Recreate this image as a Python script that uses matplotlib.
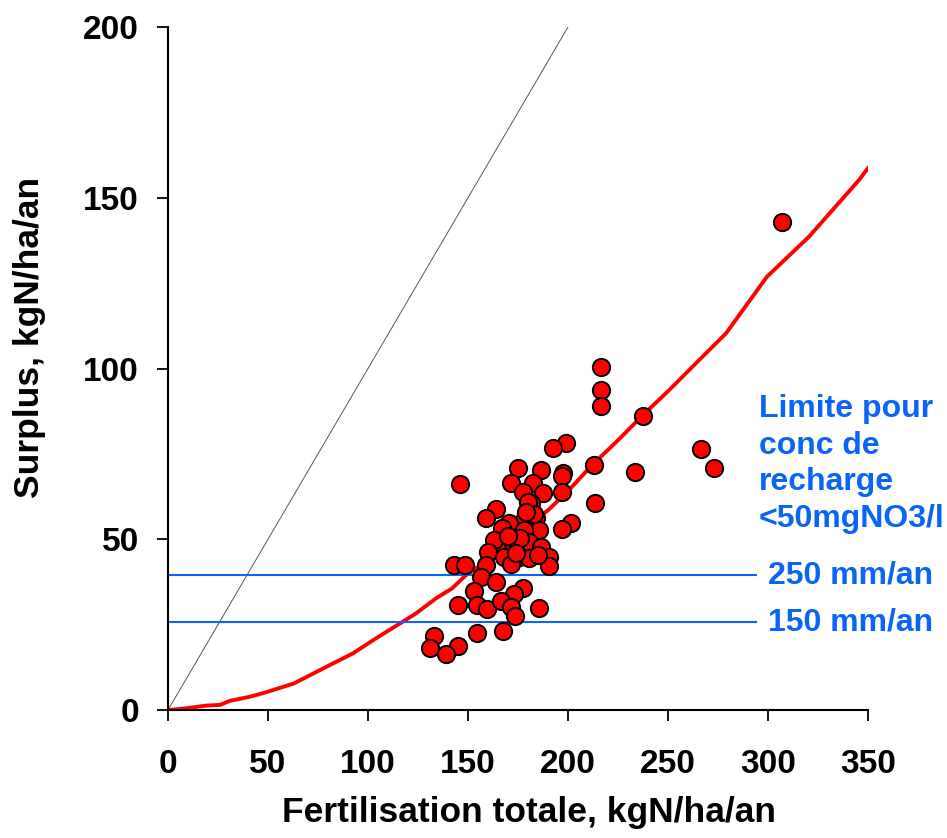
import matplotlib
matplotlib.use("Agg")
from matplotlib import pyplot as plt

# observed points (fertilisation, surplus)
fert = [216.5, 216.5, 216.5, 237.3, 199.0, 192.7, 212.8, 233.3, 145.8, 175.1,
        186.6, 197.4, 196.9, 171.6, 182.4, 177.4, 187.7, 196.9, 213.7, 164.1,
        159.1, 179.9, 181.6, 184.1, 178.2, 170.7, 166.9, 201.6, 196.9, 185.4,
        178.2, 162.8, 172.4, 175.2, 180.7, 186.6, 159.9, 168.2, 175.7, 180.7,
        190.4, 190.4, 143.0, 148.3, 159.1, 171.6, 156.3, 164.1, 177.4, 173.2,
        152.8, 144.9, 154.4, 159.4, 166.7, 171.7, 185.7, 173.4, 154.4, 167.7,
        132.8, 130.8, 144.9, 139.1, 306.9, 266.4, 273.1, 180.0, 183.0, 176.0,
        170.0, 174.0, 185.0, 179.0]
surplus = [100.5, 93.7, 89.0, 86.1, 78.3, 76.6, 71.7, 69.6, 66.2, 70.8,
           70.3, 69.5, 68.5, 66.6, 66.4, 63.9, 63.5, 63.9, 60.7, 59.0,
           56.1, 59.0, 60.5, 56.1, 55.6, 54.7, 53.4, 54.7, 52.9, 52.7,
           52.7, 49.8, 48.8, 48.3, 49.3, 47.8, 46.2, 44.9, 44.9, 44.4,
           44.7, 42.2, 42.5, 42.5, 42.4, 42.8, 38.9, 37.6, 35.6, 34.0,
           34.9, 30.7, 30.7, 29.5, 31.9, 30.3, 29.8, 27.5, 22.7, 23.1,
           21.7, 18.1, 18.7, 16.3, 143.0, 76.3, 70.8, 61.0, 57.5, 50.5,
           51.0, 46.0, 45.5, 58.0]

# limit curve
curve_x = [0, 9, 19, 26, 31, 41, 49, 63, 71, 81, 92.5, 104, 117.5, 124, 134, 142,
           149, 160, 170, 180, 190, 199, 212, 225, 237, 250.6, 265.6, 279, 299.5,
           320.5, 345.5, 350]
curve_y = [0, 0.5, 1.3, 1.5, 2.7, 3.9, 5.2, 7.8, 10.2, 13.2, 16.6, 21, 25.9, 28.3,
           32.7, 35.6, 39.5, 44, 49, 54, 58.5, 63.5, 71.7, 79, 86.1, 93.7, 102.5,
           110.3, 126.9, 138.6, 155.2, 158.7]

limit_250 = 39.5
limit_150 = 25.7

blue = '#0a64f5'
font = 'Liberation Sans'

fig = plt.figure(figsize=(9.47, 8.38), dpi=100)
ax = fig.add_axes([0.1774, 0.1527, 0.7392, 0.8151])

ax.plot([0, 200], [0, 200], color='#555555', lw=0.7)
ax.plot(curve_x, curve_y, color='#ff0000', lw=2.8)
ax.plot([0, 294], [limit_250, limit_250], color=blue, lw=1.5)
ax.plot([0, 294], [limit_150, limit_150], color=blue, lw=1.5)
ax.scatter(fert, surplus, s=155, c='#ff0000', edgecolors='black', linewidths=1.4, zorder=5)

ax.set_xlim(0, 350)
ax.set_ylim(0, 200)
ax.set_xticks(range(0, 351, 50))
ax.set_yticks(range(0, 201, 50))
ax.spines['top'].set_visible(False)
ax.spines['right'].set_visible(False)
ax.spines['left'].set_linewidth(1.5)
ax.spines['bottom'].set_linewidth(1.5)
ax.tick_params(direction='out', length=8, width=1.3, labelsize=24)
ax.tick_params(axis='x', pad=20)
ax.tick_params(axis='y', pad=13)
for lab in ax.get_xticklabels() + ax.get_yticklabels():
    lab.set_fontweight('bold')
    lab.set_fontfamily(font)

ax.set_xlabel('Fertilisation totale, kgN/ha/an', fontsize=25.5, fontweight='bold', family=font)
ax.set_ylabel('Surplus, kgN/ha/an', fontsize=25.5, fontweight='bold', family=font)
ax.xaxis.set_label_coords(0.516, -0.126)
ax.yaxis.set_label_coords(-0.174, 0.545)

ax.text(300, limit_250, '250 mm/an', color=blue, fontsize=23, fontweight='bold',
        family=font, va='center', clip_on=False)
ax.text(300, limit_150, '150 mm/an', color=blue, fontsize=23, fontweight='bold',
        family=font, va='center', clip_on=False)
ax.text(295.5, 92.5, 'Limite pour\nconc de\nrecharge\n<50mgNO3/l', color=blue, fontsize=23,
        fontweight='bold', family=font, va='top', linespacing=1.29, clip_on=False)

fig.savefig('out.png', dpi=100)
